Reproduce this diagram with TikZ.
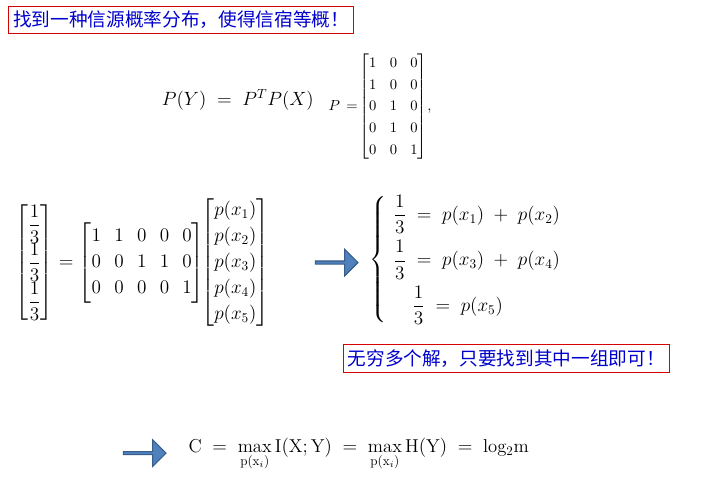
\documentclass[tikz,border=0pt]{standalone}
\usepackage{amsmath}
\usepackage{fontspec}
\newfontfamily\cjk{Noto Sans CJK SC}
\usetikzlibrary{shapes.arrows}
\definecolor{arrfill}{HTML}{4F81BD}
\definecolor{arrdraw}{HTML}{385D8A}
\begin{document}
\begin{tikzpicture}[x=1pt,y=-1pt,
  boxed/.style={draw=red!85!black,line width=0.8pt,inner sep=3.5pt,text=blue!80!black,font=\cjk\fontsize{14}{16}\selectfont,anchor=west},
  blockarrow/.style={single arrow,draw=arrdraw,fill=arrfill,minimum height=32pt,minimum width=20pt,single arrow head extend=3pt,inner sep=0pt,line width=0.8pt},
  eq/.style={font=\fontsize{14}{17}\selectfont}]
\useasboundingbox (0,0) rectangle (532,372);
\node[boxed] (t1) at (6,15) {找到一种信源概率分布，使得信宿等概！};
\node[eq,anchor=west] (e1) at (118,75) {$P(Y)\;=\;P^{T}P(X)$};
\node[anchor=west,font=\fontsize{10.5}{13}\selectfont] (e2) at (243,80) {$P\,=\!\renewcommand{\arraystretch}{1.25}\setlength{\arraycolsep}{5pt}\begin{bmatrix}1&0&0\\1&0&0\\0&1&0\\0&1&0\\0&0&1\end{bmatrix}\!,$};
\node[eq,anchor=west] (e3) at (8,197) {$\renewcommand{\arraystretch}{1.15}\begin{bmatrix}\dfrac13\\[2pt]\dfrac13\\[2pt]\dfrac13\end{bmatrix}=\begin{bmatrix}1&1&0&0&0\\0&0&1&1&0\\0&0&0&0&1\end{bmatrix}\!\!\begin{bmatrix}p(x_1)\\p(x_2)\\p(x_3)\\p(x_4)\\p(x_5)\end{bmatrix}$};
\node[blockarrow] (a1) at (252,197) {};
\node[eq,anchor=west] (e4) at (274,195) {$\left\{\begin{array}{l}\dfrac13\;=\;p(x_1)\;+\;p(x_2)\\[10pt]\dfrac13\;=\;p(x_3)\;+\;p(x_4)\\[10pt]\quad\dfrac13\;=\;p(x_5)\end{array}\right.$};
\node[boxed] (t2) at (257,269) {无穷多个解，只要找到其中一组即可！};
\node[blockarrow] (a2) at (108,340) {};
\node[eq,anchor=west] (e5) at (138,341) {$\mathrm{C}\;=\;\max\limits_{\mathrm{p}(\mathrm{x}_i)}\mathrm{I(X;Y)}\;=\;\max\limits_{\mathrm{p}(\mathrm{x}_i)}\mathrm{H(Y)}\;=\;\mathrm{log_2 m}$};
\end{tikzpicture}
\end{document}
